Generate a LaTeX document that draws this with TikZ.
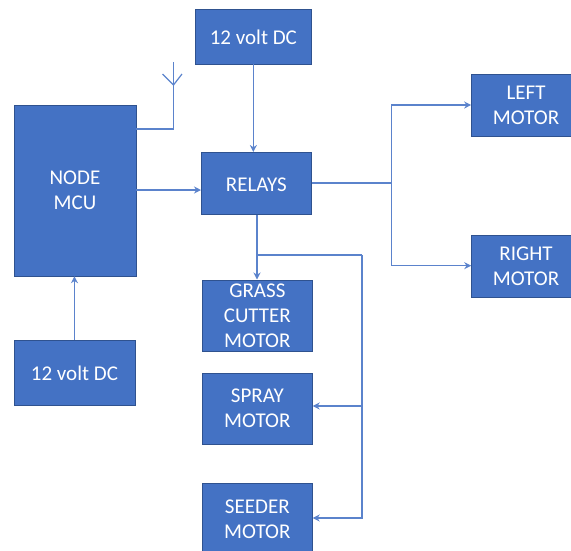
\documentclass[tikz,border=0pt]{standalone}
\usepackage{fontspec}
\setmainfont{Carlito}
\usepackage{xcolor}
\usetikzlibrary{arrows.meta,positioning,calc}
\definecolor{zBoxF}{HTML}{4472C4}
\definecolor{zBoxS}{HTML}{2F528F}
\definecolor{zLink}{HTML}{5B83CC}
\begin{document}
\begin{tikzpicture}[x=1pt,y=-1pt,
  block/.style={fill=zBoxF, draw=zBoxS, line width=0.7pt, text=white, align=center, font=\fontsize{21}{25}\selectfont, inner sep=0pt, anchor=north west, execute at begin node={\rule{0pt}{16pt}}},
  tallblock/.style={block, execute at begin node={\rule{0pt}{17.4pt}}},
  link/.style={draw=zLink, line width=1.2pt},
  arrow/.style={link, -{Stealth[length=7pt,width=7pt]}},
]
\useasboundingbox (0,0) rectangle (571,550);
% ---- blocks ----
\node[tallblock, minimum width=116, minimum height=55] (S1) at (195,8.5) {12 volt DC};
\node[block, minimum width=122, minimum height=171] (MCU) at (13.6,104.5) {NODE\\MCU};
\node[block, minimum width=110, minimum height=62] (RLY) at (201,152) {RELAYS};
\node[block, minimum width=109, minimum height=62] (LM) at (471.2,73.5) {LEFT\\MOTOR};
\node[block, minimum width=109, minimum height=62] (RM) at (471.2,234.5) {RIGHT\\MOTOR};
\node[tallblock, minimum width=121, minimum height=65] (S2) at (13.6,339.5) {12 volt DC};
\node[block, minimum width=110, minimum height=71] (GC) at (202,279.5) {GRASS\\CUTTER\\MOTOR};
\node[block, minimum width=110, minimum height=71] (SP) at (202,372.5) {SPRAY\\MOTOR};
\node[block, minimum width=110, minimum height=71] (SD) at (202,483) {SEEDER\\MOTOR};
% ---- antenna ----
\coordinate (ant) at (173.5,85);
\coordinate (antT) at (173.5,62);
\coordinate (antL) at (162.5,74);
\coordinate (antR) at (182,74);
\draw[link] (MCU.east |- 0,129) -- (173.5,129) -- (antT);
\draw[link] (antL) -- (ant) -- (antR);
% ---- connectors ----
\draw[arrow] (S1.south) -- (S1.south |- RLY.north);
\draw[arrow] (MCU.east |- 0,190) -- (RLY.west |- 0,190);
\draw[arrow] (S2.north) -- (S2.north |- MCU.south);
\coordinate (jR) at (391.5,183);
\draw[link] (RLY.east |- jR) -- (jR);
\draw[arrow] (jR) |- (LM.west |- 0,105);
\draw[arrow] (jR) |- (RM.west |- 0,265.7);
\coordinate (jG) at (257,255);
\draw[arrow] (jG |- RLY.south) -- (jG |- GC.north);
\coordinate (jS) at (362,255);
\draw[link] (jG) -- (jS);
\draw[arrow] (jS) |- (SP.east |- 0,406);
\draw[arrow] (jS) |- (SD.east |- 0,518);
\end{tikzpicture}
\end{document}
